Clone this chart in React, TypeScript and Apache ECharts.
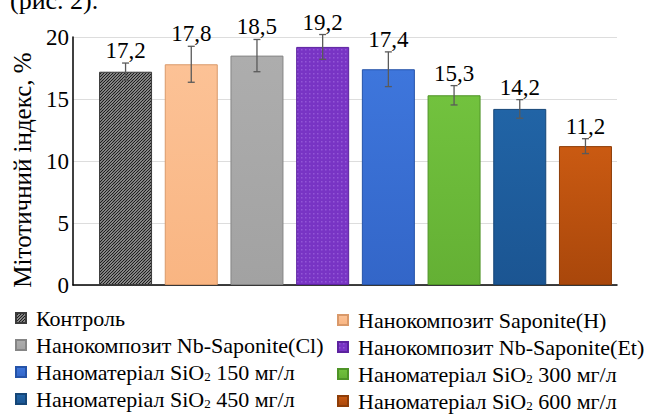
import React, { useEffect, useRef } from "react";
import * as echarts from "echarts";

const categories = [
  "Контроль",
  "Нанокомпозит Saponite(H)",
  "Нанокомпозит Nb-Saponite(Cl)",
  "Нанокомпозит Nb-Saponite(Et)",
  "Наноматеріал SiO2 150 мг/л",
  "Наноматеріал SiO2 300 мг/л",
  "Наноматеріал SiO2 450 мг/л",
  "Наноматеріал SiO2 600 мг/л",
];
const values = [17.2, 17.8, 18.5, 19.2, 17.4, 15.3, 14.2, 11.2];
const errors = [0.7, 1.45, 1.3, 1.0, 1.4, 0.78, 0.75, 0.6];
const yTicks = [0, 5, 10, 15, 20];
const leftLegend = [categories[0], categories[2], categories[4], categories[6]];
const rightLegend = [categories[1], categories[3], categories[5], categories[7]];

const FONT = "Liberation Serif";

function hatchPattern() {
  const c = document.createElement("canvas");
  c.width = 6;
  c.height = 6;
  const ctx = c.getContext("2d")!;
  ctx.fillStyle = "#d6d6d6";
  ctx.fillRect(0, 0, 6, 6);
  ctx.strokeStyle = "#1e1e1e";
  ctx.lineWidth = 1.3;
  for (let k = -6; k <= 12; k += 3) {
    ctx.beginPath();
    ctx.moveTo(k - 1, 7);
    ctx.lineTo(k + 7, -1);
    ctx.stroke();
  }
  return { image: c, repeat: "repeat" } as any;
}

function dotPattern(base: string, dot: string) {
  const c = document.createElement("canvas");
  c.width = 4;
  c.height = 4;
  const ctx = c.getContext("2d")!;
  ctx.fillStyle = base;
  ctx.fillRect(0, 0, 4, 4);
  ctx.fillStyle = dot;
  ctx.fillRect(1, 1, 1.5, 1.5);
  return { image: c, repeat: "repeat" } as any;
}

function vGrad(top: string, bottom: string) {
  return new echarts.graphic.LinearGradient(0, 0, 0, 1, [
    { offset: 0, color: top },
    { offset: 1, color: bottom },
  ]);
}

export default function App() {
  const ref = useRef<HTMLDivElement>(null);
  useEffect(() => {
    if (!ref.current) return;
    const chart = echarts.init(ref.current, null, { renderer: "svg" });

    const fills: any[] = [
      hatchPattern(),
      vGrad("#FCC296", "#F9B582"),
      vGrad("#ADADAD", "#A2A2A2"),
      dotPattern("#7834C4", "#9256D6"),
      vGrad("#3E76DC", "#3366C8"),
      vGrad("#72C23E", "#64B034"),
      vGrad("#2164A6", "#1B5592"),
      vGrad("#CA5A12", "#A9470B"),
    ];
    const borders = [
      "#3a3a3a",
      "#D9996A",
      "#858585",
      "#5C229F",
      "#2553A8",
      "#4E9427",
      "#154677",
      "#8E3D08",
    ];

    const barSeries = categories.map((name, i) => ({
      type: "bar",
      name,
      stack: "all",
      barWidth: 53,
      data: [[i, values[i]]],
      itemStyle: { color: fills[i], borderColor: borders[i], borderWidth: 1 },
      z: 2,
    }));

    const errSeries = {
      type: "custom",
      name: "err",
      z: 10,
      encode: { x: 0, y: [1, 2, 3] },
      data: values.map((v, i) => [i, v, v - errors[i], v + errors[i]]),
      renderItem: (params: any, api: any) => {
        const x = api.value(0);
        const mean = api.value(1);
        const top = api.coord([x, api.value(3)]);
        const bot = api.coord([x, api.value(2)]);
        const hw = 3.5;
        const ls = { stroke: "#5a5a5a", lineWidth: 1.3 };
        return {
          type: "group",
          children: [
            { type: "line", shape: { x1: top[0], y1: top[1], x2: bot[0], y2: bot[1] }, style: ls },
            { type: "line", shape: { x1: top[0] - hw, y1: top[1], x2: top[0] + hw, y2: top[1] }, style: ls },
            { type: "line", shape: { x1: bot[0] - hw, y1: bot[1], x2: bot[0] + hw, y2: bot[1] }, style: ls },
            {
              type: "text",
              style: {
                text: mean.toFixed(1).replace(".", ","),
                x: top[0],
                y: top[1] - 1,
                align: "center",
                verticalAlign: "bottom",
                font: `23px ${FONT}`,
                fill: "#000",
              },
            },
          ],
        };
      },
    };

    const legendCommon = {
      orient: "vertical",
      itemWidth: 10,
      itemHeight: 10,
      itemGap: 5,
      padding: 0,
      icon: "rect",
      selectedMode: false,
      formatter: (name: string) => name.replace("SiO2", "SiO{sub|2}"),
      textStyle: {
        fontFamily: FONT,
        fontSize: 22,
        color: "#000",
        lineHeight: 21,
        padding: [0, 0, 0, 5],
        rich: {
          sub: { fontFamily: FONT, fontSize: 13, color: "#000", lineHeight: 13, padding: [8, 0, 0, 0] },
        },
      },
    };

    chart.setOption({
      animation: false,
      backgroundColor: "#fff",
      grid: { left: 73, right: 36, top: 37, bottom: 132, containLabel: false },
      xAxis: {
        type: "value",
        min: -0.8,
        max: 7.48,
        axisLine: { show: true, onZero: false, lineStyle: { color: "#000", width: 1.5 } },
        axisTick: { show: false },
        axisLabel: { show: false },
        splitLine: { show: false },
      },
      yAxis: {
        type: "value",
        min: yTicks[0],
        max: yTicks[yTicks.length - 1],
        interval: yTicks[1] - yTicks[0],
        axisLine: { show: true, onZero: false, lineStyle: { color: "#000", width: 1.5 } },
        axisTick: { show: false },
        axisLabel: { fontFamily: FONT, fontSize: 23, color: "#000", margin: 4 },
        splitLine: { lineStyle: { color: "#DDDDDD", width: 1 } },
      },
      legend: [
        { ...legendCommon, left: 15, top: 307, data: leftLegend },
        { ...legendCommon, left: 337, top: 309, data: rightLegend },
      ],
      graphic: [
        {
          type: "text",
          x: 22,
          y: 170,
          rotation: Math.PI / 2,
          style: {
            text: "Мітотичний індекс, %",
            font: `25px ${FONT}`,
            fill: "#000",
            align: "center",
            verticalAlign: "middle",
          },
        },
        {
          type: "text",
          x: 10,
          y: 13,
          style: {
            text: "(рис. 2).",
            font: `26px ${FONT}`,
            fill: "#000",
            align: "left",
            verticalAlign: "bottom",
          },
        },
      ],
      series: [...barSeries, errSeries],
    });

    return () => chart.dispose();
  }, []);

  return (
    <div
      ref={ref}
      style={{ position: "fixed", left: 0, top: 0, width: 653, height: 417, background: "#fff" }}
    />
  );
}
